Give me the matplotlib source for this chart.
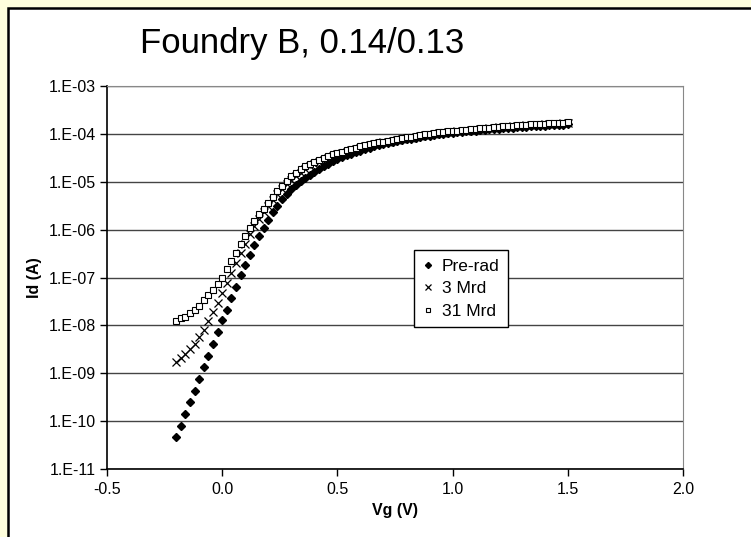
import numpy as np
import matplotlib.pyplot as plt
from matplotlib.patches import Rectangle
from matplotlib.ticker import FuncFormatter

plt.rcParams['font.family'] = ['Liberation Sans', 'DejaVu Sans']

# gate voltage (V)
vg = [-0.20, -0.18, -0.16, -0.14, -0.12, -0.10, -0.08, -0.06, -0.04, -0.02,
      0.00, 0.02, 0.04, 0.06, 0.08, 0.10, 0.12, 0.14, 0.16, 0.18,
      0.20, 0.22, 0.24, 0.26, 0.28, 0.30, 0.32, 0.34, 0.36, 0.38,
      0.40, 0.42, 0.44, 0.46, 0.48, 0.50, 0.52, 0.54, 0.56, 0.58,
      0.60, 0.62, 0.64, 0.66, 0.68, 0.70, 0.72, 0.74, 0.76, 0.78,
      0.80, 0.82, 0.84, 0.86, 0.88, 0.90, 0.92, 0.94, 0.96, 0.98,
      1.00, 1.02, 1.04, 1.06, 1.08, 1.10, 1.12, 1.14, 1.16, 1.18,
      1.20, 1.22, 1.24, 1.26, 1.28, 1.30, 1.32, 1.34, 1.36, 1.38,
      1.40, 1.42, 1.44, 1.46, 1.48, 1.50]

# log10 of Id (A)
pre_rad_log = [-10.34, -10.10, -9.85, -9.61, -9.37, -9.12, -8.87, -8.63, -8.39, -8.14,
               -7.89, -7.67, -7.43, -7.19, -6.95, -6.73, -6.53, -6.33, -6.14, -5.97,
               -5.80, -5.64, -5.50, -5.37, -5.26, -5.16, -5.07, -4.99, -4.92, -4.85,
               -4.79, -4.73, -4.67, -4.62, -4.57, -4.53, -4.49, -4.45, -4.41, -4.38,
               -4.35, -4.32, -4.29, -4.26, -4.24, -4.21, -4.19, -4.17, -4.15, -4.13,
               -4.11, -4.10, -4.08, -4.07, -4.05, -4.04, -4.03, -4.01, -4.00, -3.99,
               -3.98, -3.97, -3.96, -3.95, -3.94, -3.93, -3.92, -3.91, -3.90, -3.90,
               -3.89, -3.88, -3.87, -3.87, -3.86, -3.85, -3.85, -3.84, -3.84, -3.83,
               -3.83, -3.82, -3.82, -3.81, -3.81, -3.80]

mrd3_log = [-8.76, -8.68, -8.60, -8.50, -8.38, -8.25, -8.09, -7.91, -7.72, -7.53,
            -7.33, -7.12, -6.91, -6.70, -6.49, -6.29, -6.10, -5.93, -5.77, -5.63,
            -5.50, -5.38, -5.26, -5.15, -5.05, -4.96, -4.88, -4.81, -4.74, -4.68,
            -4.63, -4.58, -4.54, -4.50, -4.46, -4.43, -4.40, -4.37, -4.34, -4.31,
            -4.29, -4.26, -4.24, -4.22, -4.20, -4.18, -4.16, -4.14, -4.12, -4.11,
            -4.09, -4.08, -4.06, -4.05, -4.03, -4.02, -4.01, -3.99, -3.98, -3.97,
            -3.96, -3.95, -3.94, -3.93, -3.92, -3.91, -3.90, -3.89, -3.88, -3.87,
            -3.86, -3.86, -3.85, -3.84, -3.84, -3.83, -3.82, -3.82, -3.81, -3.81,
            -3.80, -3.80, -3.79, -3.79, -3.78, -3.78]

mrd31_log = [-7.90, -7.85, -7.82, -7.75, -7.68, -7.59, -7.48, -7.37, -7.26, -7.13,
             -7.00, -6.83, -6.66, -6.49, -6.31, -6.14, -5.97, -5.82, -5.68, -5.56,
             -5.44, -5.32, -5.20, -5.09, -4.98, -4.89, -4.81, -4.74, -4.68, -4.63,
             -4.58, -4.54, -4.50, -4.46, -4.43, -4.40, -4.37, -4.34, -4.31, -4.29,
             -4.26, -4.24, -4.22, -4.20, -4.18, -4.16, -4.14, -4.12, -4.10, -4.09,
             -4.07, -4.06, -4.04, -4.03, -4.01, -4.00, -3.99, -3.97, -3.96, -3.95,
             -3.94, -3.93, -3.92, -3.91, -3.90, -3.89, -3.88, -3.87, -3.87, -3.86,
             -3.85, -3.84, -3.84, -3.83, -3.82, -3.82, -3.81, -3.80, -3.80, -3.79,
             -3.79, -3.78, -3.78, -3.77, -3.77, -3.76]

labels = ["Pre-rad", "3 Mrd", "31 Mrd"]

fig = plt.figure(figsize=(7.51, 5.37), dpi=100, facecolor='#FFFFDD')
# white chart panel with black frame, running off the right and bottom edges
fig.patches.append(Rectangle((8 / 751, -0.2), 1.2, 1.2 - 8 / 537,
                             transform=fig.transFigure, facecolor='white',
                             edgecolor='black', lw=1.8, zorder=-5))

ax = fig.add_axes([107 / 751, 68 / 537, 576 / 751, 383 / 537], zorder=2)
ax.set_yscale('log')

ax.plot(vg, 10 ** np.array(pre_rad_log), linestyle='none', marker='D', ms=4.4,
        color='black', label=labels[0])
ax.plot(vg, 10 ** np.array(mrd3_log), linestyle='none', marker='x', ms=5.5,
        mew=0.9, color='black', label=labels[1])
ax.plot(vg, 10 ** np.array(mrd31_log), linestyle='none', marker='s', ms=4.2,
        mew=0.8, mfc='white', mec='black', label=labels[2])

ax.set_xlim(-0.5, 2.0)
ax.set_ylim(1e-11, 1e-3)
ax.set_xticks([-0.5, 0.0, 0.5, 1.0, 1.5, 2.0])
ax.set_yticks([10.0 ** k for k in range(-11, -2)])
ax.yaxis.set_minor_locator(plt.NullLocator())
ax.xaxis.set_major_formatter(FuncFormatter(lambda v, p: f"{v:.1f}"))
ax.yaxis.set_major_formatter(
    FuncFormatter(lambda v, p: f"1.E{int(round(np.log10(v))):+03d}"))
ax.tick_params(axis='both', direction='out', length=5, width=1,
               labelsize=11.5, colors='black')
ax.tick_params(axis='x', pad=4)
ax.tick_params(axis='y', pad=3)
ax.grid(axis='y', color='#444444', lw=1)
ax.set_axisbelow(True)

ax.spines['top'].set_color('#888888')
ax.spines['right'].set_color('#888888')
ax.spines['left'].set_linewidth(1.2)
ax.spines['bottom'].set_linewidth(1.2)

ax.set_xlabel("Vg (V)", fontsize=11.5, fontweight='bold', labelpad=5)
ax.set_ylabel("Id (A)", fontsize=11.5, fontweight='bold', labelpad=5)

leg = ax.legend(loc='upper left', bbox_to_anchor=(0.533, 0.572), fontsize=12.5,
                frameon=True, fancybox=False, framealpha=1, edgecolor='black',
                handlelength=0.6, handletextpad=0.5, borderpad=0.5,
                labelspacing=0.42, markerscale=0.7, borderaxespad=0)
leg.get_frame().set_linewidth(1)

fig.text(140 / 751, 1 - 43 / 537, "Foundry B, 0.14/0.13", fontsize=25,
         ha='left', va='center')

fig.savefig("out.png", dpi=100, facecolor=fig.get_facecolor())
